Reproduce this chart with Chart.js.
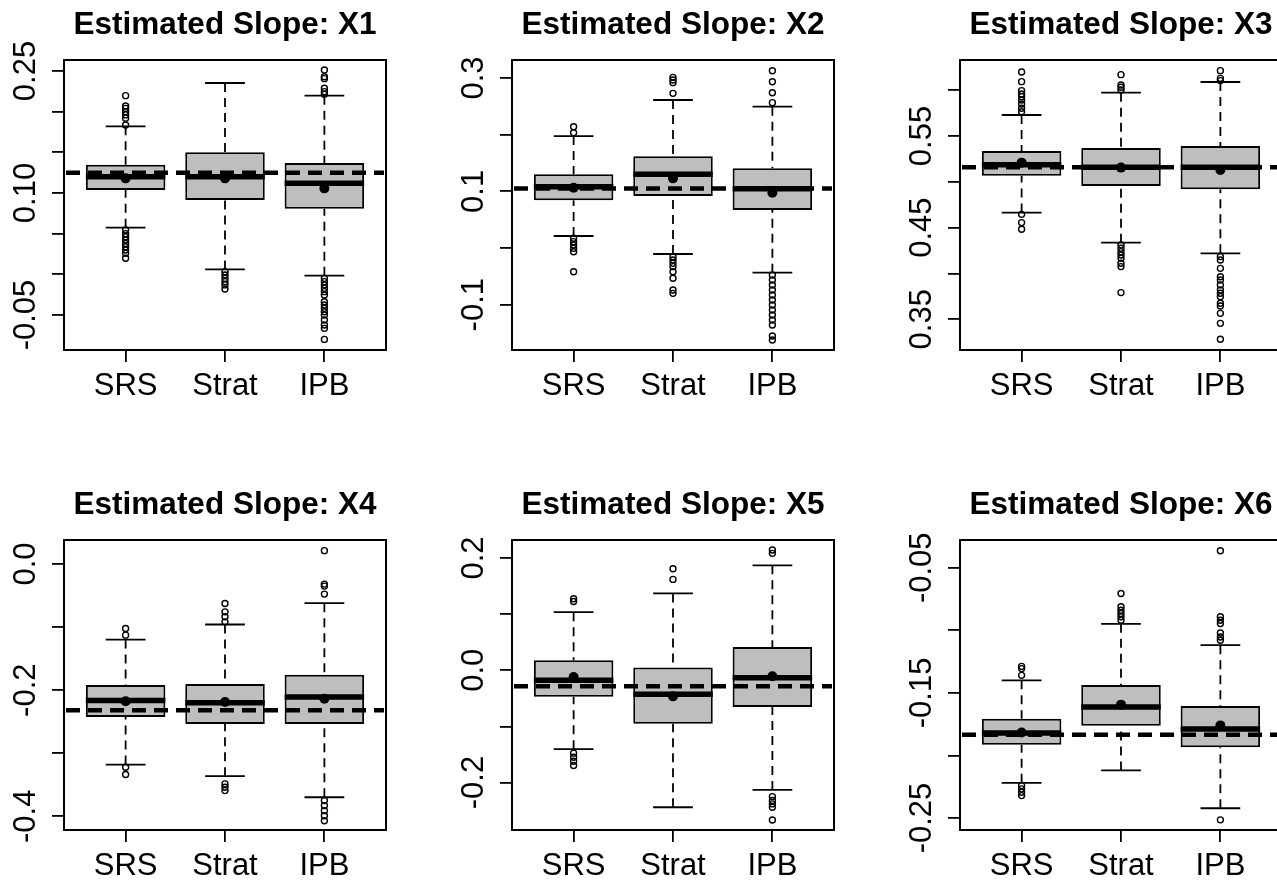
<!DOCTYPE html>
<html>
<head>
<meta charset="utf-8">
<script src="https://cdn.jsdelivr.net/npm/chart.js@4"></script>
<style>
  body { margin: 0; background: #fff; overflow: hidden; width: 1277px; height: 882px; position: relative; }
  .panel { position: absolute; }
</style>
</head>
<body>
<script>
// groups on the x axis and one panel per slope
const groups = ["SRS", "Strat", "IPB"];
const slopeNames = ["X1", "X2", "X3", "X4", "X5", "X6"];

// true slope (dashed reference line)
const trueSlope = [0.125, 0.105, 0.516, -0.232, -0.0286, -0.1835];

// box stats, one row per panel, columns = SRS, Strat, IPB
const whiskerLow = [
  [0.0574, 0.0061, -0.0016],
  [0.0212, -0.0106, -0.0435],
  [0.4664, 0.4336, 0.422],
  [-0.3179, -0.3364, -0.3698],
  [-0.1405, -0.244, -0.2131],
  [-0.2219, -0.212, -0.2422]
];
const quartLow = [
  [0.1037, 0.0914, 0.0807],
  [0.0841, 0.0918, 0.067],
  [0.5067, 0.4955, 0.4918],
  [-0.2427, -0.2538, -0.2538],
  [-0.047, -0.0952, -0.0655],
  [-0.1915, -0.1763, -0.1934]
];
const medians = [
  [0.120, 0.120, 0.112],
  [0.1082, 0.130, 0.1047],
  [0.5187, 0.5158, 0.5158],
  [-0.2162, -0.2199, -0.2109],
  [-0.0179, -0.0429, -0.0131],
  [-0.1821, -0.1613, -0.1789]
];
const quartHigh = [
  [0.1348, 0.150, 0.137],
  [0.130, 0.1618, 0.1406],
  [0.5336, 0.5369, 0.5391],
  [-0.1918, -0.1902, -0.1754],
  [0.0179, 0.0048, 0.0417],
  [-0.1707, -0.1437, -0.1605]
];
const whiskerHigh = [
  [0.182, 0.2352, 0.2197],
  [0.1976, 0.2612, 0.2494],
  [0.5729, 0.5973, 0.6089],
  [-0.1197, -0.0959, -0.062],
  [0.1036, 0.1369, 0.1869],
  [-0.14, -0.0948, -0.1119]
];
const means = [
  [0.118, 0.118, 0.1057],
  [0.1065, 0.1229, 0.0976],
  [0.5209, 0.5155, 0.5129],
  [-0.2177, -0.2188, -0.2135],
  [-0.0119, -0.0464, -0.0107],
  [-0.1816, -0.1594, -0.176]
];
const outliers = [
  [
    [0.2197, 0.207, 0.204, 0.200, 0.196, 0.192, 0.1836, 0.0545, 0.050, 0.0463, 0.0422, 0.038, 0.034, 0.030, 0.0258, 0.0197],
    [0.0033, -0.0008, -0.005, -0.009, -0.013, -0.018],
    [0.2512, 0.243, 0.2406, 0.2287, 0.2246, 0.2213, -0.0049, -0.009, -0.0131, -0.0172, -0.0213, -0.0254, -0.0336, -0.0377, -0.0418, -0.0459, -0.05, -0.0561, -0.0623, -0.0664, -0.080]
  ],
  [
    [0.2141, 0.2035, 0.0171, 0.0112, 0.0053, -0.0006, -0.0065, -0.0418],
    [0.3012, 0.2965, 0.2918, 0.2729, -0.0153, -0.0212, -0.0271, -0.0329, -0.0418, -0.0535, -0.0741, -0.080],
    [0.3129, 0.2935, 0.2741, 0.2565, -0.0476, -0.0565, -0.0653, -0.0741, -0.0829, -0.0918, -0.1006, -0.1094, -0.1182, -0.1271, -0.1359, -0.1553, -0.1624]
  ],
  [
    [0.6198, 0.6093, 0.5995, 0.5958, 0.5929, 0.5893, 0.5849, 0.5802, 0.5765, 0.4645, 0.4555, 0.4482],
    [0.6169, 0.6056, 0.6031, 0.6002, 0.4311, 0.4275, 0.4238, 0.4202, 0.4165, 0.4111, 0.4075, 0.3791],
    [0.6213, 0.6129, 0.6104, 0.4184, 0.4147, 0.4056, 0.3965, 0.3929, 0.3875, 0.382, 0.3784, 0.3747, 0.3675, 0.3645, 0.3565, 0.3456, 0.3282]
  ],
  [
    [-0.1022, -0.1128, -0.3221, -0.3338],
    [-0.0625, -0.0758, -0.0837, -0.0917, -0.3486, -0.3539, -0.3592],
    [0.0212, -0.0318, -0.035, -0.0477, -0.375, -0.383, -0.391, -0.399, -0.407]
  ],
  [
    [0.1274, 0.1226, -0.1476, -0.1548, -0.1619, -0.1696],
    [0.181, 0.1619],
    [0.2143, 0.2083, -0.225, -0.232, -0.238, -0.244, -0.2667]
  ],
  [
    [-0.1288, -0.1306, -0.136, -0.2241, -0.2267, -0.2294, -0.2321],
    [-0.0706, -0.0812, -0.0839, -0.0866, -0.0892, -0.0919],
    [-0.0364, -0.0892, -0.0919, -0.0946, -0.1021, -0.1053, -0.1079, -0.2515]
  ]
];

// y axis limits and ticks per panel
const yMin = [-0.093, -0.18, 0.3165, -0.4217, -0.2845, -0.2596];
const yMax = [0.2635, 0.3318, 0.6329, 0.0381, 0.2321, -0.0278];
const yTicks = [
  [-0.05, 0, 0.05, 0.10, 0.15, 0.20, 0.25],
  [-0.1, 0, 0.1, 0.2, 0.3],
  [0.35, 0.40, 0.45, 0.50, 0.55, 0.60],
  [-0.4, -0.3, -0.2, -0.1, 0.0],
  [-0.2, -0.1, 0.0, 0.1, 0.2],
  [-0.25, -0.20, -0.15, -0.10, -0.05]
];
const yLabels = [
  ["-0.05", "", "", "0.10", "", "", "0.25"],
  ["-0.1", "", "0.1", "", "0.3"],
  ["0.35", "", "0.45", "", "0.55", ""],
  ["-0.4", "", "-0.2", "", "0.0"],
  ["-0.2", "", "0.0", "", "0.2"],
  ["-0.25", "", "-0.15", "", "-0.05"]
];

const FONT = '"Liberation Sans", Arial, sans-serif';
Chart.defaults.font.family = FONT;
Chart.defaults.color = "#000";

// draws whiskers, medians, reference line, frame, title and y labels
const boxExtras = {
  id: "boxExtras",
  beforeDatasetsDraw(chart) {
    const p = chart.options.plugins.boxExtras.panel;
    const ctx = chart.ctx;
    const xs = chart.scales.x, ys = chart.scales.y;
    const bars = chart.getDatasetMeta(0).data;
    ctx.save();
    ctx.strokeStyle = "#000";
    ctx.lineWidth = 1.8;
    groups.forEach((g, i) => {
      const x = xs.getPixelForValue(i + 1);
      const half = bars[i].width / 4;
      ctx.setLineDash([9, 6]);
      ctx.beginPath();
      ctx.moveTo(x, ys.getPixelForValue(whiskerHigh[p][i]));
      ctx.lineTo(x, ys.getPixelForValue(quartHigh[p][i]));
      ctx.moveTo(x, ys.getPixelForValue(whiskerLow[p][i]));
      ctx.lineTo(x, ys.getPixelForValue(quartLow[p][i]));
      ctx.stroke();
      ctx.setLineDash([]);
      ctx.beginPath();
      [whiskerHigh[p][i], whiskerLow[p][i]].forEach(v => {
        const y = ys.getPixelForValue(v);
        ctx.moveTo(x - half, y);
        ctx.lineTo(x + half, y);
      });
      ctx.stroke();
    });
    ctx.restore();
  },
  afterDatasetsDraw(chart) {
    const p = chart.options.plugins.boxExtras.panel;
    const ctx = chart.ctx;
    const area = chart.chartArea;
    const ys = chart.scales.y;
    const bars = chart.getDatasetMeta(0).data;
    ctx.save();
    ctx.strokeStyle = "#000";
    // medians
    ctx.lineWidth = 5.5;
    ctx.beginPath();
    bars.forEach((b, i) => {
      const y = ys.getPixelForValue(medians[p][i]);
      ctx.moveTo(b.x - b.width / 2, y);
      ctx.lineTo(b.x + b.width / 2, y);
    });
    ctx.stroke();
    // true slope
    const yt = ys.getPixelForValue(trueSlope[p]);
    ctx.lineWidth = 4.5;
    ctx.setLineDash([14, 8]);
    ctx.beginPath();
    ctx.moveTo(area.left + 2, yt);
    ctx.lineTo(area.right - 2, yt);
    ctx.stroke();
    ctx.setLineDash([]);
    // frame
    ctx.lineWidth = 2;
    ctx.strokeRect(area.left, area.top, area.right - area.left, area.bottom - area.top);
    ctx.restore();
  },
  afterDraw(chart) {
    const p = chart.options.plugins.boxExtras.panel;
    const ctx = chart.ctx;
    const area = chart.chartArea;
    const ys = chart.scales.y;
    ctx.save();
    ctx.fillStyle = "#000";
    ctx.font = "bold 31.5px " + FONT;
    ctx.textAlign = "center";
    ctx.textBaseline = "alphabetic";
    ctx.fillText("Estimated Slope: " + slopeNames[p], (area.left + area.right) / 2, area.top - 26);
    ctx.font = "31px " + FONT;
    yTicks[p].forEach((v, k) => {
      if (!yLabels[p][k]) return;
      ctx.save();
      ctx.translate(area.left - 29, ys.getPixelForValue(v));
      ctx.rotate(-Math.PI / 2);
      ctx.fillText(yLabels[p][k], 0, 0);
      ctx.restore();
    });
    ctx.restore();
  }
};

const colLeft = [0, 448, 896];
const rowTop = [0, 480];

function createPanel(p) {
  const div = document.createElement("div");
  div.className = "panel";
  div.style.left = colLeft[p % 3] + "px";
  div.style.top = rowTop[Math.floor(p / 3)] + "px";
  const canvas = document.createElement("canvas");
  canvas.width = 450;
  canvas.height = 410;
  div.appendChild(canvas);
  document.body.appendChild(div);

  const outlierPts = [];
  outliers[p].forEach((vals, i) => vals.forEach(v => outlierPts.push({ x: i + 1, y: v })));

  new Chart(canvas, {
    type: "bar",
    data: {
      datasets: [
        {
          type: "bar",
          data: groups.map((g, i) => ({ x: i + 1, y: [quartLow[p][i], quartHigh[p][i]] })),
          backgroundColor: "#bebebe",
          borderColor: "#000",
          borderWidth: 2,
          borderSkipped: false,
          barPercentage: 0.8,
          categoryPercentage: 1,
          order: 3
        },
        {
          type: "scatter",
          data: outlierPts,
          pointStyle: "circle",
          pointRadius: 3,
          pointBorderWidth: 1.4,
          pointBorderColor: "#000",
          pointBackgroundColor: "rgba(0,0,0,0)",
          order: 2
        },
        {
          type: "scatter",
          data: groups.map((g, i) => ({ x: i + 1, y: means[p][i] })),
          pointStyle: "circle",
          pointRadius: 5,
          pointBorderWidth: 0,
          pointBackgroundColor: "#000",
          order: 1
        }
      ]
    },
    options: {
      responsive: false,
      animation: false,
      devicePixelRatio: 1,
      layout: { padding: { left: 0, right: 64, top: 60, bottom: 0 } },
      plugins: {
        legend: { display: false },
        tooltip: { enabled: false },
        title: { display: false },
        boxExtras: { panel: p }
      },
      scales: {
        x: {
          type: "linear",
          min: 0.38,
          max: 3.62,
          offset: false,
          afterBuildTicks: s => { s.ticks = groups.map((g, i) => ({ value: i + 1 })); },
          afterFit: s => { s.height = 60; },
          grid: { offset: false, drawOnChartArea: false, drawTicks: true, tickLength: 12, color: "#000", lineWidth: 1.8 },
          border: { display: false },
          ticks: {
            callback: v => groups[Math.round(v) - 1],
            font: { size: 31 },
            color: "#000",
            padding: 6,
            maxRotation: 0,
            autoSkip: false
          }
        },
        y: {
          type: "linear",
          min: yMin[p],
          max: yMax[p],
          afterBuildTicks: s => { s.ticks = yTicks[p].map(v => ({ value: v })); },
          afterFit: s => { s.width = 64; },
          grid: { drawOnChartArea: false, drawTicks: true, tickLength: 12, color: "#000", lineWidth: 1.8 },
          border: { display: false },
          ticks: { display: false }
        }
      }
    },
    plugins: [boxExtras]
  });
}

for (let p = 0; p < 6; p++) createPanel(p);
</script>
</body>
</html>
